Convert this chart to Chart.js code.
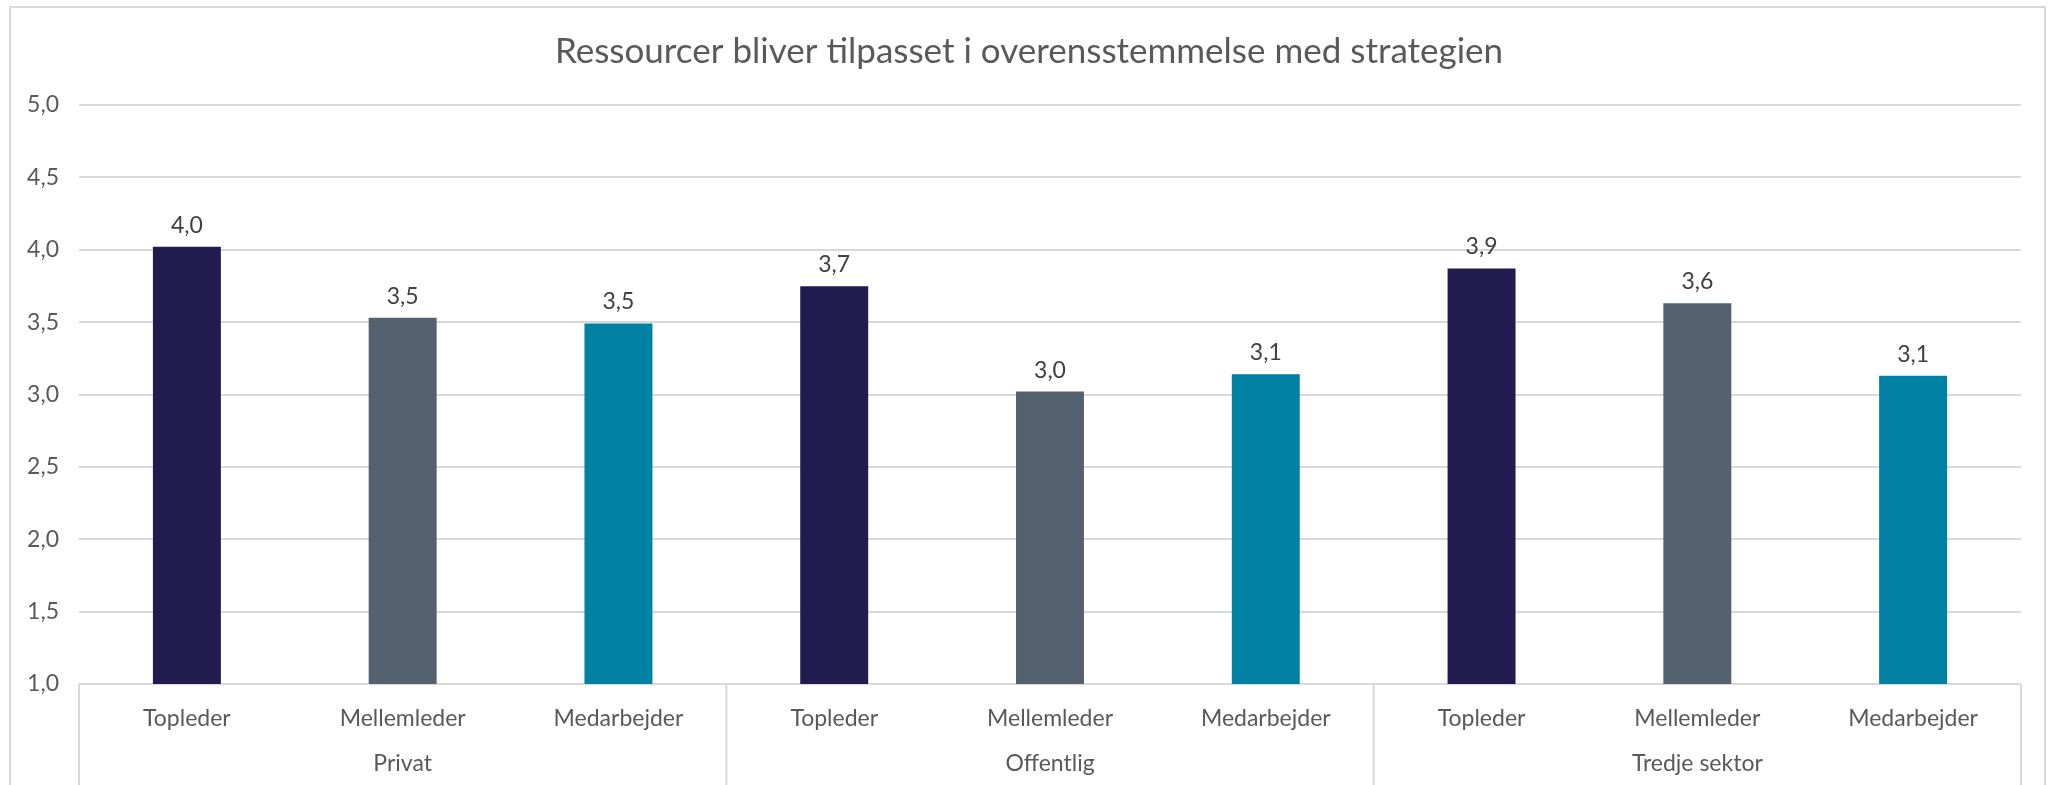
<!DOCTYPE html>
<html>
<head>
<meta charset="utf-8">
<script src="https://cdn.jsdelivr.net/npm/chart.js@4"></script>
<style>
  body { margin: 0; background: #fff; }
  canvas { display: block; }
</style>
</head>
<body>
<canvas id="chart" width="2058" height="785"></canvas>
<script>
// ===== Data =====
const titleText = 'Ressourcer bliver tilpasset i overensstemmelse med strategien';
const roles = ['Topleder', 'Mellemleder', 'Medarbejder'];
const sectors = ['Privat', 'Offentlig', 'Tredje sektor'];
const privatValues = [4.02, 3.53, 3.49];
const offentligValues = [3.748, 3.02, 3.14];
const tredjeValues = [3.87, 3.63, 3.13];
const roleColors = ['#221b50', '#54626f', '#0080a3'];
const yTicks = [1.0, 1.5, 2.0, 2.5, 3.0, 3.5, 4.0, 4.5, 5.0];

const FONT = 'Lato, "Open Sans", sans-serif';

function fmt(v) {
    return v.toFixed(1).replace('.', ',');
}

let labels = [];
sectors.forEach(() => roles.forEach(r => labels.push(r)));
let values = [...privatValues, ...offentligValues, ...tredjeValues];
let colors = [];
sectors.forEach(() => roleColors.forEach(c => colors.push(c)));

// ===== Plugins =====
const frame = {
    id: 'frame',
    beforeDraw(chart) {
        const ctx = chart.ctx;
        ctx.save();
        ctx.fillStyle = '#fff';
        ctx.fillRect(0, 0, chart.width, chart.height);
        ctx.strokeStyle = '#d9d9d9';
        ctx.lineWidth = 2;
        ctx.strokeRect(10, 7, 2035, 800);
        // title, centred on the whole canvas
        ctx.font = '35px ' + FONT;
        ctx.fillStyle = '#595959';
        ctx.textAlign = 'center';
        ctx.textBaseline = 'middle';
        ctx.fillText(titleText, chart.width / 2, 52);
        ctx.restore();
    },
    afterDraw(chart) {
        // group dividers below the axis
        const ctx = chart.ctx;
        const x2 = chart.scales.x2;
        const area = chart.chartArea;
        let xs = [area.left];
        for (let i = 0; i < sectors.length - 1; i++) {
            xs.push((x2.getPixelForTick(i) + x2.getPixelForTick(i + 1)) / 2);
        }
        xs.push(area.right);
        ctx.save();
        ctx.strokeStyle = '#d9d9d9';
        ctx.lineWidth = 2;
        ctx.beginPath();
        xs.forEach(x => {
            ctx.moveTo(x, area.bottom);
            ctx.lineTo(x, chart.height);
        });
        ctx.stroke();
        ctx.restore();
    }
};

const valueLabels = {
    id: 'valueLabels',
    afterDatasetsDraw(chart) {
        const ctx = chart.ctx;
        const meta = chart.getDatasetMeta(0);
        ctx.save();
        ctx.font = '23px ' + FONT;
        ctx.fillStyle = '#404040';
        ctx.textAlign = 'center';
        ctx.textBaseline = 'bottom';
        meta.data.forEach((bar, i) => {
            ctx.fillText(fmt(values[i]), bar.x, bar.y - 10);
        });
        ctx.restore();
    }
};

// ===== Chart =====
new Chart(document.getElementById('chart'), {
    type: 'bar',
    data: {
        labels: labels,
        datasets: [{
            data: values,
            backgroundColor: colors,
            barPercentage: 0.315,
            categoryPercentage: 1
        }]
    },
    options: {
        responsive: false,
        animation: false,
        layout: { padding: { top: 105, left: 0, right: 37, bottom: 0 } },
        plugins: {
            legend: { display: false },
            tooltip: { enabled: false },
            title: { display: false }
        },
        scales: {
            y: {
                min: 1,
                max: 5,
                afterBuildTicks: s => { s.ticks = yTicks.map(v => ({ value: v })); },
                afterFit: s => { s.width = 79; },
                border: { display: false },
                grid: { color: '#d9d9d9', lineWidth: 2, drawTicks: false },
                ticks: {
                    color: '#595959',
                    font: { family: FONT, size: 23 },
                    padding: 20,
                    callback: v => fmt(v)
                }
            },
            x: {
                weight: 0,
                offset: true,
                border: { display: false },
                grid: { display: false },
                afterFit: s => { s.height = 58; },
                ticks: {
                    autoSkip: false,
                    maxRotation: 0,
                    color: '#595959',
                    font: { family: FONT, size: 23 },
                    padding: 13
                }
            },
            x2: {
                type: 'category',
                labels: sectors,
                position: 'bottom',
                weight: 1,
                offset: true,
                border: { display: false },
                grid: { display: false },
                afterFit: s => { s.height = 43; },
                ticks: {
                    autoSkip: false,
                    maxRotation: 0,
                    color: '#595959',
                    font: { family: FONT, size: 23 },
                    padding: 0
                }
            }
        }
    },
    plugins: [frame, valueLabels]
});
</script>
</body>
</html>
